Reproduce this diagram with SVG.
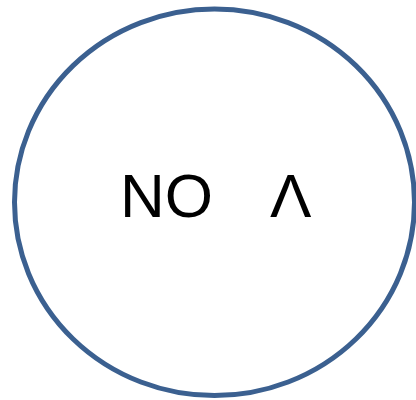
<svg xmlns="http://www.w3.org/2000/svg" width="416" height="400" viewBox="0 0 416 400">
<style>
.node{fill:#ffffff;stroke:#3b6090;stroke-width:5}
.lbl{font-family:"Liberation Sans",Arial,sans-serif;font-size:62px;fill:#000000}
</style>
<rect width="416" height="400" fill="#ffffff"/>
<g id="node1">
<ellipse class="node" cx="214.5" cy="202.3" rx="200" ry="193.3"/>
<text class="lbl" y="217"><tspan x="120">NO</tspan><tspan x="270">Λ</tspan></text>
</g>
<g id="connectors"/>
</svg>
